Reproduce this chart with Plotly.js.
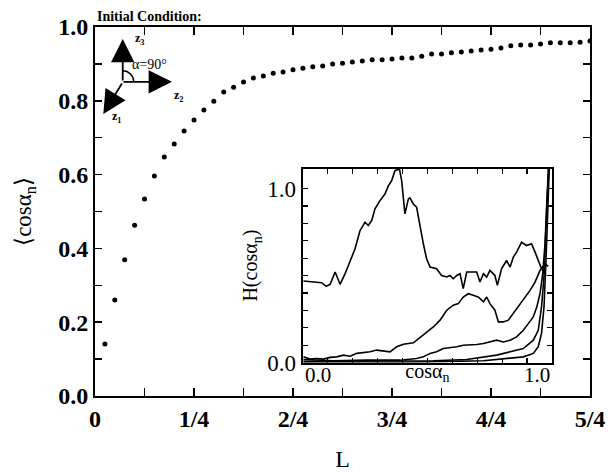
<!DOCTYPE html>
<html>
<head>
<meta charset="utf-8">
<script src="https://cdn.plot.ly/plotly-3.0.1.min.js"></script>
<style>html,body{margin:0;padding:0;background:#fff;}#chart{width:608px;height:472px;}</style>
</head>
<body>
<div id="chart"></div>
<script>
// Main series: <cos alpha_n> vs L
const L = [0.025,0.05,0.075,0.1,0.125,0.15,0.175,0.2,0.225,0.25,0.275,0.3,0.325,0.35,0.375,0.4,0.425,0.45,0.475,0.5,
           0.525,0.55,0.575,0.6,0.625,0.65,0.675,0.7,0.725,0.75,0.775,0.8,0.825,0.85,0.875,0.9,0.925,0.95,0.975,1.0,
           1.025,1.05,1.075,1.1,1.125,1.15,1.175,1.2,1.225,1.25];
const cosMean = [0.141,0.260,0.369,0.463,0.534,0.596,0.648,0.683,0.718,0.748,0.775,0.799,0.824,0.837,0.851,0.862,0.867,0.875,0.878,0.884,
                 0.888,0.892,0.894,0.900,0.902,0.905,0.908,0.911,0.911,0.913,0.916,0.916,0.921,0.927,0.927,0.930,0.932,0.935,0.938,0.940,
                 0.943,0.949,0.951,0.951,0.954,0.957,0.957,0.957,0.959,0.962];

// Main axis ticks
const xTickVals = [0,0.25,0.5,0.75,1.0,1.25];
const xTickText = ['0','1/4','2/4','3/4','4/4','5/4'];

// Inset histograms H(cos alpha_n)
const hA_x = [0.003,0.043,0.076,0.094,0.110,0.130,0.150,0.170,0.190,0.210,0.230,0.250,0.263,0.277,0.290,0.310,0.330,0.344,0.357,0.370,0.388,0.397,0.410,0.424,0.430,0.444,0.457,0.471,0.484,0.497,0.511,0.537,0.557,0.578,0.591,0.604,0.618,0.631,0.644,0.658,0.678,0.698,0.711,0.725,0.738,0.751,0.771,0.781,0.798,0.818,0.832,0.845,0.858,0.878,0.898,0.918,0.932,0.945,0.958,0.976];
const hA_y = [0.469,0.463,0.459,0.438,0.450,0.521,0.450,0.511,0.587,0.654,0.759,0.807,0.788,0.817,0.884,0.931,0.969,1.017,1.046,1.103,1.113,1.046,0.855,0.941,0.947,0.912,0.893,0.778,0.683,0.597,0.549,0.540,0.501,0.492,0.501,0.482,0.501,0.511,0.425,0.521,0.521,0.521,0.463,0.511,0.492,0.530,0.501,0.444,0.540,0.587,0.549,0.607,0.635,0.692,0.673,0.683,0.635,0.587,0.540,0.501];
const hB_x = [0.003,0.029,0.056,0.083,0.110,0.136,0.163,0.190,0.217,0.243,0.270,0.297,0.324,0.350,0.377,0.404,0.444,0.484,0.524,0.551,0.578,0.604,0.624,0.644,0.664,0.684,0.704,0.725,0.738,0.751,0.771,0.785,0.805,0.825,0.845,0.872,0.892,0.912,0.932,0.952,0.972,0.985];
const hB_y = [0.033,0.020,0.024,0.020,0.030,0.033,0.043,0.037,0.053,0.056,0.062,0.072,0.068,0.062,0.091,0.106,0.114,0.158,0.205,0.244,0.301,0.330,0.339,0.377,0.396,0.387,0.377,0.349,0.377,0.339,0.301,0.234,0.234,0.244,0.282,0.339,0.377,0.415,0.463,0.530,0.568,0.553];
const hC_x = [0.003,0.123,0.257,0.390,0.457,0.484,0.511,0.537,0.564,0.591,0.618,0.644,0.671,0.698,0.725,0.751,0.778,0.805,0.832,0.858,0.885,0.905,0.925,0.939,0.952,0.963,0.972,0.981,0.988];
const hC_y = [0.018,0.011,0.014,0.014,0.024,0.033,0.053,0.062,0.081,0.085,0.091,0.100,0.100,0.104,0.110,0.119,0.129,0.119,0.129,0.148,0.186,0.224,0.263,0.320,0.396,0.511,0.683,0.969,1.113];
const hD_x = [0.003,0.324,0.524,0.658,0.725,0.778,0.832,0.885,0.925,0.945,0.958,0.968,0.976,0.985];
const hD_y = [0.007,0.007,0.011,0.018,0.033,0.043,0.062,0.081,0.129,0.186,0.320,0.492,0.778,1.113];
const hE_x = [0.003,0.457,0.725,0.832,0.885,0.925,0.945,0.958,0.968,0.976,0.983,0.989];
const hE_y = [0.001,0.003,0.011,0.024,0.033,0.053,0.091,0.167,0.320,0.587,0.874,1.113];

const insetTickVals = [0,0.1,0.2,0.3,0.4,0.5,0.6,0.7,0.8,0.9,1.0];
const insetYText = ['0.0','','','','','','','','','','1.0'];

const serif = 'Liberation Serif, Times New Roman, serif';
const lineStyle = {color:'#000', width:1.6};

const traces = [
  {x:L, y:cosMean, type:'scatter', mode:'markers', marker:{symbol:'circle', size:5, color:'#000'}, xaxis:'x', yaxis:'y', hoverinfo:'skip'},
  {x:hA_x, y:hA_y, type:'scatter', mode:'lines', line:lineStyle, xaxis:'x2', yaxis:'y2'},
  {x:hB_x, y:hB_y, type:'scatter', mode:'lines', line:lineStyle, xaxis:'x2', yaxis:'y2'},
  {x:hC_x, y:hC_y, type:'scatter', mode:'lines', line:lineStyle, xaxis:'x2', yaxis:'y2'},
  {x:hD_x, y:hD_y, type:'scatter', mode:'lines', line:lineStyle, xaxis:'x2', yaxis:'y2'},
  {x:hE_x, y:hE_y, type:'scatter', mode:'lines', line:lineStyle, xaxis:'x2', yaxis:'y2'}
];

const arrowCommon = {xref:'paper', yref:'paper', showarrow:true, arrowhead:2, arrowsize:2.6, arrowwidth:1.8, arrowcolor:'#000', text:''};
const smallLabel = {xref:'paper', yref:'paper', xanchor:'left', yanchor:'middle', showarrow:false};

const layout = {
  width:608, height:472,
  margin:{l:95, r:18, t:27, b:76},
  paper_bgcolor:'#fff', plot_bgcolor:'#fff',
  showlegend:false,
  font:{family:serif, color:'#000'},
  xaxis:{
    domain:[0,1], range:[0,1.25], anchor:'y',
    tickmode:'array', tickvals:xTickVals, ticktext:xTickText,
    ticks:'inside', ticklen:8, tickwidth:1.5, tickcolor:'#000',
    minor:{dtick:0.125, tick0:0, ticks:'inside', ticklen:8, tickwidth:1.5, tickcolor:'#000', showgrid:false},
    showline:true, linewidth:2, linecolor:'#000', mirror:'allticks',
    showgrid:false, zeroline:false,
    tickfont:{family:serif, size:24, weight:'bold', color:'#000'},
    title:{text:'L', font:{family:serif, size:24, color:'#000'}, standoff:32}
  },
  yaxis:{
    domain:[0,1], range:[0,1.0], anchor:'x',
    dtick:0.2, tick0:0, tickformat:'.1f',
    ticks:'inside', ticklen:7, tickwidth:1.5, tickcolor:'#000',
    minor:{dtick:0.1, tick0:0, ticks:'inside', ticklen:7, tickwidth:1.5, tickcolor:'#000', showgrid:false},
    showline:true, linewidth:2, linecolor:'#000', mirror:'allticks',
    showgrid:false, zeroline:false,
    tickfont:{family:serif, size:24, weight:'bold', color:'#000'},
    title:{text:'⟨cosα<sub>n</sub>⟩', font:{family:serif, size:23, color:'#000'}, standoff:20}
  },
  xaxis2:{
    domain:[0.4196,0.9232], range:[0,1.0], anchor:'y2',
    tickmode:'array', tickvals:insetTickVals, showticklabels:false,
    ticks:'inside', ticklen:5, tickwidth:1.2, tickcolor:'#000',
    showline:true, linewidth:2, linecolor:'#000', mirror:'allticks',
    showgrid:false, zeroline:false,
    title:{text:'cosα<sub>n</sub>', font:{family:serif, size:20, color:'#000'}, standoff:0}
  },
  yaxis2:{
    domain:[0.0905,0.6162], range:[0,1.115], anchor:'x2',
    tickmode:'array', tickvals:insetTickVals, ticktext:insetYText,
    ticks:'inside', ticklen:5, tickwidth:1.2, tickcolor:'#000',
    showline:true, linewidth:2, linecolor:'#000', mirror:'allticks',
    showgrid:false, zeroline:false,
    tickfont:{family:serif, size:23, color:'#000'},
    title:{text:'H(cosα<sub>n</sub>)', font:{family:serif, size:20, color:'#000'}, standoff:4}
  },
  shapes:[
    {type:'path', xref:'paper', yref:'paper', xsizemode:'pixel', ysizemode:'pixel', xanchor:0.056, yanchor:0.8514,
     path:'M0,11 C6,11 11,6 11,0', line:{color:'#000', width:1.5}}
  ],
  annotations:[
    Object.assign({x:0, y:1.0297, text:'<b>Initial Condition:</b>', font:{family:serif, size:14, color:'#000'}}, smallLabel),
    Object.assign({x:0.056, y:0.9676, ax:0, ay:43}, arrowCommon),
    Object.assign({x:0.1556, y:0.8514, ax:-50, ay:0}, arrowCommon),
    Object.assign({x:0.0168, y:0.764, ax:19.5, ay:-32}, arrowCommon),
    Object.assign({x:0.0768, y:0.9676, text:'<b>z<sub>3</sub></b>', font:{family:serif, size:12, color:'#000'}}, smallLabel),
    Object.assign({x:0.1556, y:0.8135, text:'<b>z<sub>2</sub></b>', font:{family:serif, size:12, color:'#000'}}, smallLabel),
    Object.assign({x:0.0303, y:0.7568, text:'<b>z<sub>1</sub></b>', font:{family:serif, size:12, color:'#000'}}, smallLabel),
    Object.assign({x:0.0707, y:0.8973, text:'α=90°', font:{family:serif, size:14, color:'#000'}}, smallLabel),
    {xref:'x2', yref:'y2 domain', x:0, y:0, xanchor:'left', yanchor:'top', yshift:2, showarrow:false, text:'0.0', font:{family:serif, size:21, color:'#000'}},
    {xref:'x2', yref:'y2 domain', x:1, y:0, xanchor:'right', yanchor:'top', yshift:2, showarrow:false, text:'1.0', font:{family:serif, size:21, color:'#000'}}
  ]
};

Plotly.newPlot('chart', traces, layout, {staticPlot:true, displayModeBar:false});
</script>
</body>
</html>
